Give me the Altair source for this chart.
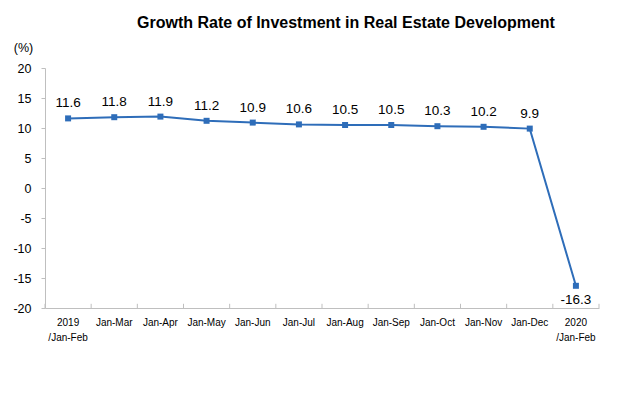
import altair as alt
import pandas as pd

categories = ["2019|/Jan-Feb", "Jan-Mar", "Jan-Apr", "Jan-May", "Jan-Jun", "Jan-Jul",
              "Jan-Aug", "Jan-Sep", "Jan-Oct", "Jan-Nov", "Jan-Dec", "2020|/Jan-Feb"]
values = [11.6, 11.8, 11.9, 11.2, 10.9, 10.6, 10.5, 10.5, 10.3, 10.2, 9.9, -16.3]
y_ticks = [20, 15, 10, 5, 0, -5, -10, -15, -20]

df = pd.DataFrame({"cat": categories, "val": values,
                   "lbl": [f"{v:.1f}" for v in values],
                   "above": [v > 0 for v in values],
                   "last": [i == len(values) - 1 for i in range(len(values))]})

FONT = "Liberation Sans"
LINE = "#2E6DB9"
GRAY = "#BFBFBF"

xs = alt.Scale(type="band", domain=categories, paddingInner=0, paddingOuter=0)
ys = alt.Scale(domain=[-20, 20], nice=False, zero=False)

x_axis = alt.Axis(title=None, labelAngle=0, labelFont=FONT, labelFontSize=10,
                  labelColor="#000000", labelPadding=9, ticks=False,
                  domainColor=GRAY, labelExpr="split(datum.label, '|')",
                  labelLineHeight=15, labelBaseline="top", labelOverlap=False)
y_axis = alt.Axis(title="(%)", titleAngle=0, titleFont=FONT, titleFontSize=12.5,
                  titleFontWeight="normal", titleColor="#000000",
                  titleX=-22, titleY=-21, titleAlign="center", titleBaseline="middle",
                  values=y_ticks, tickCount=9, labelFont=FONT, labelFontSize=12.5,
                  labelColor="#000000", tickColor=GRAY, tickSize=4,
                  labelPadding=10, domainColor=GRAY, grid=False,
                  labelOverlap=False, labelExpr="toString(datum.value)")

X = alt.X("cat:N", scale=xs, axis=x_axis, sort=categories)
Y = alt.Y("val:Q", scale=ys, axis=y_axis)

base = alt.Chart(df)

line = base.mark_line(color=LINE, strokeWidth=2).encode(x=X, y=Y)
pts = base.mark_square(color=LINE, size=36, opacity=1).encode(x=X, y=Y)
lab_up = base.transform_filter("datum.above").mark_text(
    font=FONT, fontSize=13.5, color="#000000", dy=-15).encode(
    x=X, y=Y, text="lbl:N",
)
lab_dn = base.transform_filter("!datum.above").mark_text(
    font=FONT, fontSize=13.5, color="#000000", dy=14).encode(
    x=X, y=Y, text="lbl:N",
)
ticks_l = base.mark_rule(color=GRAY, strokeWidth=1).encode(
    x=alt.X("cat:N", scale=xs, axis=x_axis, sort=categories, bandPosition=0),
    y=alt.datum(-20, axis=y_axis, scale=ys), y2=alt.datum(-19.3),
)
ticks_r = base.transform_filter("datum.last").mark_rule(
    color=GRAY, strokeWidth=1).encode(
    x=alt.X("cat:N", scale=xs, axis=x_axis, sort=categories, bandPosition=1),
    y=alt.datum(-20, axis=y_axis, scale=ys), y2=alt.datum(-19.3),
)

chart = alt.layer(line, ticks_l, ticks_r, pts, lab_up, lab_dn).properties(
    width=554, height=240,
    title=alt.TitleParams("Growth Rate of Investment in Real Estate Development",
                          font=FONT, fontSize=16, fontWeight="bold",
                          color="#000000", anchor="middle", dx=24, offset=10),
    autosize=alt.AutoSizeParams(type="none"),
    padding={"left": 37, "top": 60, "right": 11, "bottom": 70},
    background="white",
).configure_view(strokeWidth=0)

chart.save("out.html", embed_options={"renderer": "svg", "actions": False})
